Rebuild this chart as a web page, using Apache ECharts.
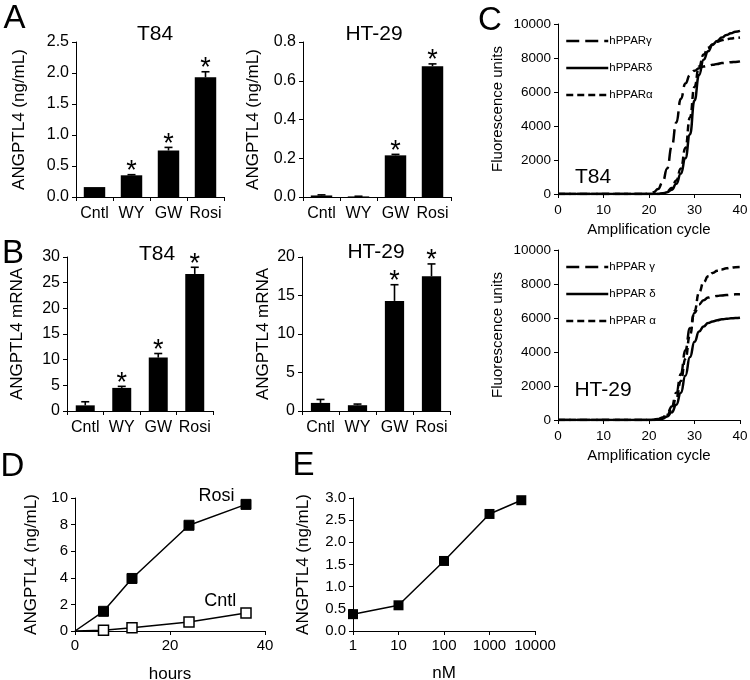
<!DOCTYPE html>
<html><head><meta charset="utf-8">
<script src="https://cdn.jsdelivr.net/npm/echarts/dist/echarts.min.js"></script>
<style>html,body{margin:0;padding:0;background:#fff}#c{width:750px;height:680px}</style>
</head><body><div id="c"></div>
<script>
// ---------- data ----------
const barCats = ['Cntl', 'WY', 'GW', 'Rosi'];
// Panel A: ANGPTL4 protein (ng/mL)
const aT84 = [0.16, 0.35, 0.75, 1.93];
const aT84Err = [0, 0.01, 0.05, 0.09];
const aT84Sig = [0, 1, 1, 1];
const aHT29 = [0.008, 0.003, 0.215, 0.675];
const aHT29Err = [0.003, 0.001, 0.005, 0.012];
const aHT29Sig = [0, 0, 1, 1];
// Panel B: ANGPTL4 mRNA
const bT84 = [1.1, 4.5, 10.4, 26.7];
const bT84Err = [0.7, 0.3, 0.8, 1.3];
const bT84Sig = [0, 1, 1, 1];
const bHT29 = [1.05, 0.75, 14.3, 17.5];
const bHT29Err = [0.45, 0.15, 2.1, 1.6];
const bHT29Sig = [0, 0, 1, 1];
// Panel C: amplification curves
const cycles = [0,1,2,3,4,5,6,7,8,9,10,11,12,13,14,15,16,17,18,19,20,21,22,23,24,25,26,27,28,29,30,31,32,33,34,35,36,37,38,39,40];
const cT84Gamma = [0,0,0,0,0,0,0,0,0,0,0,0,0,0,0,0,0,0,0,0,20,100,300,700,1500,2800,4200,5600,6500,7000,7250,7400,7500,7550,7600,7650,7700,7720,7750,7770,7800];
const cT84Delta = [0,0,0,0,0,0,0,0,0,0,0,0,0,0,0,0,0,0,0,0,0,0,0,30,100,250,600,1200,2100,3500,5500,7000,7900,8400,8800,9000,9200,9350,9450,9550,9600];
const cT84Alpha = [0,0,0,0,0,0,0,0,0,0,0,0,0,0,0,0,0,0,0,0,0,0,0,50,150,350,800,1500,2700,4500,6300,7500,8200,8600,8800,8950,9050,9100,9150,9180,9200];
const cHTGamma = [0,0,0,0,0,0,0,0,0,0,0,0,0,0,0,0,0,0,0,0,0,20,60,150,350,800,1600,2700,4100,5400,6300,6800,7050,7200,7270,7300,7330,7350,7370,7390,7400];
const cHTDelta = [0,0,0,0,0,0,0,0,0,0,0,0,0,0,0,0,0,0,0,0,0,0,20,80,200,450,900,1600,2600,3700,4600,5200,5500,5700,5800,5870,5920,5950,5980,6000,6020];
const cHTAlpha = [0,0,0,0,0,0,0,0,0,0,0,0,0,0,0,0,0,0,0,0,0,10,40,120,300,650,1300,2300,3600,5000,6400,7500,8100,8450,8650,8780,8860,8920,8960,8990,9000];
const cNamesT84 = ['hPPARγ', 'hPPARδ', 'hPPARα'];
const cNamesHT = ['hPPAR γ', 'hPPAR δ', 'hPPAR α'];
// Panel D: time course
const dHours = [0, 6, 12, 24, 36];
const dRosi = [0, 1.48, 3.95, 7.95, 9.52];
const dCntl = [0, 0.05, 0.25, 0.68, 1.35];
// Panel E: dose response
const eConc = [1, 10, 100, 1000, 5000];
const eVal = [0.38, 0.58, 1.58, 2.64, 2.95];

// ---------- styling ----------
const F = "'Liberation Sans', Arial, Helvetica, sans-serif";
const K = '#000';

function axisBase(fs) {
  return {
    axisLine: { show: true, onZero: false, lineStyle: { color: K, width: 1 } },
    axisTick: { show: true, inside: false, length: 4, lineStyle: { color: K, width: 1 } },
    splitLine: { show: false },
    axisLabel: { color: K, fontSize: fs, fontFamily: F, margin: 7, hideOverlap: false },
    nameTextStyle: { color: K, fontFamily: F }
  };
}
function catX(gi) {
  const a = axisBase(16);
  return Object.assign(a, { type: 'category', gridIndex: gi, data: barCats,
    axisTick: Object.assign(a.axisTick, { alignWithLabel: false, interval: 0 }),
    axisLabel: Object.assign(a.axisLabel, { margin: 9, interval: 0 }) });
}
function valY(gi, max, interval, dec, name, gap, fs, tfs) {
  const a = axisBase(tfs || 15);
  return Object.assign(a, { type: 'value', gridIndex: gi, min: 0, max: max, interval: interval,
    axisLabel: Object.assign(a.axisLabel, { formatter: v => v.toFixed(dec) }),
    name: name, nameLocation: 'middle', nameGap: gap,
    nameTextStyle: { color: K, fontFamily: F, fontSize: fs } });
}
function bars(gi, vals, bw) {
  return { type: 'bar', xAxisIndex: gi, yAxisIndex: gi, data: vals, barWidth: bw,
    itemStyle: { color: K }, silent: true, animation: false };
}
function errSeries(gi, vals, errs, sig) {
  return {
    type: 'custom', xAxisIndex: gi, yAxisIndex: gi, z: 5, silent: true, animation: false,
    data: vals.map((v, i) => [i, v, errs[i], sig[i]]),
    renderItem: (params, api) => {
      const i = api.value(0), v = api.value(1), e = api.value(2), s = api.value(3);
      const p0 = api.coord([i, v]), p1 = api.coord([i, v + e]);
      const ch = [];
      if (e > 0) {
        ch.push({ type: 'line', shape: { x1: p0[0], y1: p0[1], x2: p1[0], y2: p1[1] }, style: { stroke: K, lineWidth: 1.6 } });
        ch.push({ type: 'line', shape: { x1: p1[0] - 4, y1: p1[1], x2: p1[0] + 4, y2: p1[1] }, style: { stroke: K, lineWidth: 1.6 } });
      }
      if (s) ch.push({ type: 'text', x: p1[0], y: p1[1] - 3,
        style: { text: '*', fill: K, font: '27px ' + F, align: 'center', verticalAlign: 'middle', textAlign: 'center', textVerticalAlign: 'middle' } });
      return { type: 'group', children: ch };
    }
  };
}
const dashG = [13, 6], dashA = [7, 4];
function curve(gi, name, vals, dash) {
  return { type: 'line', name: name, xAxisIndex: gi, yAxisIndex: gi, symbol: 'none', showSymbol: false,
    smooth: true, smoothMonotone: 'x', silent: true, animation: false,
    data: cycles.map((c, i) => [c, vals[i]]),
    lineStyle: { color: K, width: 2.5, type: dash || 'solid' }, itemStyle: { color: K } };
}
function cX(gi) {
  const a = axisBase(13.5);
  return Object.assign(a, { type: 'value', gridIndex: gi, min: 0, max: 40, interval: 10,
    axisLabel: Object.assign(a.axisLabel, { margin: 9 }),
    name: 'Amplification cycle', nameLocation: 'middle', nameGap: 28,
    nameTextStyle: { color: K, fontFamily: F, fontSize: 15 } });
}
function cY(gi) {
  const a = axisBase(13.5);
  return Object.assign(a, { type: 'value', gridIndex: gi, min: 0, max: 10000, interval: 2000,
    axisLabel: Object.assign(a.axisLabel, { formatter: v => String(v) }),
    name: 'Fluorescence units', nameLocation: 'middle', nameGap: 53,
    nameTextStyle: { color: K, fontFamily: F, fontSize: 15 } });
}
function txt(s, x, y, size) {
  return { type: 'text', x: x, y: y, silent: true,
    style: { text: s, fill: K, font: size + 'px ' + F, align: 'center', verticalAlign: 'middle', textAlign: 'center', textVerticalAlign: 'middle' } };
}
function legendC(names, top) {
  return { data: names, orient: 'vertical', left: 565, top: top, itemWidth: 42, itemHeight: 14, itemGap: 15,
    selectedMode: false, padding: 0,
    itemStyle: { color: 'rgba(0,0,0,0)', borderWidth: 0, opacity: 0 },
    lineStyle: { width: 2.5 },
    textStyle: { color: K, fontFamily: F, fontSize: 11.5, padding: [0, 0, 0, -4] } };
}

const option = {
  backgroundColor: '#fff',
  animation: false,
  textStyle: { fontFamily: F },
  grid: [
    { left: 76, top: 42, width: 148, height: 155 },
    { left: 303, top: 42, width: 148, height: 155 },
    { left: 67, top: 257, width: 146, height: 154 },
    { left: 302, top: 257, width: 148, height: 154 },
    { left: 558, top: 24, width: 182, height: 170 },
    { left: 558, top: 250, width: 182, height: 170 },
    { left: 75, top: 498, width: 190, height: 133 },
    { left: 353, top: 498, width: 182, height: 133 }
  ].map(g => Object.assign(g, { containLabel: false, outerBoundsMode: 'none' })),
  legend: [legendC(cNamesT84, 35), legendC(cNamesHT, 261)],
  xAxis: [
    catX(0), catX(1), catX(2), catX(3), cX(4), cX(5),
    Object.assign(axisBase(15), { type: 'value', gridIndex: 6, min: 0, max: 40, interval: 20,
      name: 'hours', nameLocation: 'middle', nameGap: 35, nameTextStyle: { color: K, fontFamily: F, fontSize: 17 } }),
    Object.assign(axisBase(15), { type: 'log', logBase: 10, gridIndex: 7, min: 1, max: 10000,
      axisLabel: { color: K, fontSize: 15, fontFamily: F, margin: 7, formatter: v => String(Math.round(v)) },
      name: 'nM', nameLocation: 'middle', nameGap: 34, nameTextStyle: { color: K, fontFamily: F, fontSize: 17 } })
  ],
  yAxis: [
    valY(0, 2.5, 0.5, 1, 'ANGPTL4 (ng/mL)', 48, 17, 16),
    valY(1, 0.8, 0.2, 1, 'ANGPTL4 (ng/mL)', 41, 17, 16),
    valY(2, 30, 5, 0, 'ANGPTL4 mRNA', 41, 17, 16),
    valY(3, 20, 5, 0, 'ANGPTL4 mRNA', 30, 17, 16),
    cY(4), cY(5),
    valY(6, 10, 2, 0, 'ANGPTL4 (ng/mL)', 35, 17, 15),
    valY(7, 3, 0.5, 1, 'ANGPTL4 (ng/mL)', 41, 17, 15)
  ],
  series: [
    bars(0, aT84, '58%'), errSeries(0, aT84, aT84Err, aT84Sig),
    bars(1, aHT29, '58%'), errSeries(1, aHT29, aHT29Err, aHT29Sig),
    bars(2, bT84, '52%'), errSeries(2, bT84, bT84Err, bT84Sig),
    bars(3, bHT29, '52%'), errSeries(3, bHT29, bHT29Err, bHT29Sig),
    curve(4, cNamesT84[0], cT84Gamma, dashG),
    curve(4, cNamesT84[1], cT84Delta),
    curve(4, cNamesT84[2], cT84Alpha, dashA),
    curve(5, cNamesHT[0], cHTGamma, dashG),
    curve(5, cNamesHT[1], cHTDelta),
    curve(5, cNamesHT[2], cHTAlpha, dashA),
    {
      type: 'line', name: 'Rosi', xAxisIndex: 6, yAxisIndex: 6, silent: true, animation: false,
      symbol: 'rect', symbolSize: 10, showAllSymbol: true,
      lineStyle: { color: K, width: 1.5 }, itemStyle: { color: K, borderColor: K, borderWidth: 1 },
      data: dHours.map((h, i) => {
        const d = { value: [h, dRosi[i]] };
        if (i === 0) d.symbol = 'none';
        if (i === dHours.length - 1) d.label = { show: true, position: 'left', distance: 6, offset: [0, -8], formatter: 'Rosi', color: K, fontSize: 18, fontFamily: F };
        return d;
      })
    },
    {
      type: 'line', name: 'Cntl', xAxisIndex: 6, yAxisIndex: 6, silent: true, animation: false,
      symbol: 'rect', symbolSize: 10, showAllSymbol: true,
      lineStyle: { color: K, width: 1.5 }, itemStyle: { color: '#fff', borderColor: K, borderWidth: 1.5 },
      data: dHours.map((h, i) => {
        const d = { value: [h, dCntl[i]] };
        if (i === 0) d.symbol = 'none';
        if (i === dHours.length - 1) d.label = { show: true, position: 'left', distance: 4, offset: [0, -12], formatter: 'Cntl', color: K, fontSize: 18, fontFamily: F };
        return d;
      })
    },
    {
      type: 'line', name: 'dose', xAxisIndex: 7, yAxisIndex: 7, silent: true, animation: false,
      symbol: 'rect', symbolSize: 10,
      lineStyle: { color: K, width: 1.5 }, itemStyle: { color: K },
      data: eConc.map((c, i) => [c, eVal[i]])
    }
  ],
  graphic: [
    txt('A', 14.5, 19, 33), txt('B', 13, 254, 33), txt('C', 490, 21, 33), txt('D', 12.5, 467, 33), txt('E', 303.5, 466, 33),
    txt('T84', 155, 34, 21), txt('HT-29', 374, 34, 21),
    txt('T84', 157, 254, 21), txt('HT-29', 376, 252, 21),
    txt('T84', 593, 177, 21), txt('HT-29', 603, 390, 21)
  ]
};
const chart = echarts.init(document.getElementById('c'), null, { renderer: 'canvas' });
chart.setOption(option);
</script></body></html>
